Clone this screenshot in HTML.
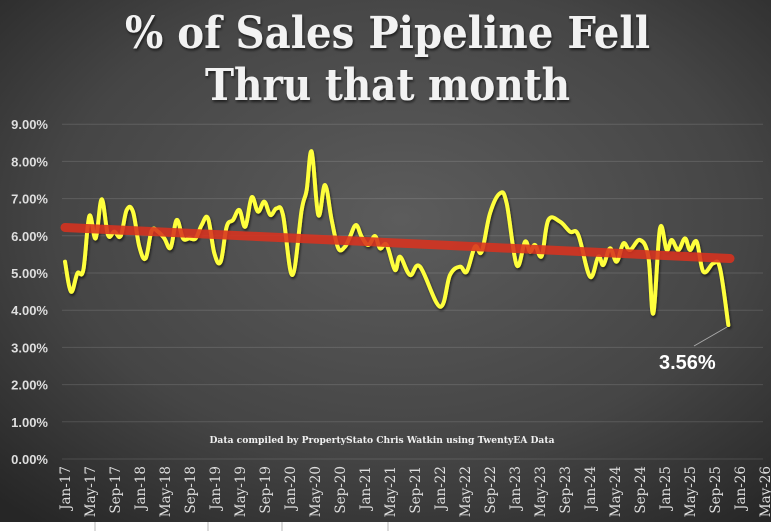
<!DOCTYPE html>
<html><head><meta charset="utf-8"><style>
html,body{margin:0;padding:0;width:771px;height:531px;overflow:hidden;background:#fff}
</style></head><body>
<svg id="s" width="771" height="531" xmlns="http://www.w3.org/2000/svg" style="display:block">
<defs>
<radialGradient id="bg" cx="0.52" cy="0.42" r="0.75">
<stop offset="0" stop-color="#5c5c5c"/><stop offset="0.6" stop-color="#454545"/><stop offset="1" stop-color="#262626"/>
</radialGradient>
<filter id="sh" x="-5%" y="-5%" width="110%" height="110%"><feDropShadow dx="1" dy="2" stdDeviation="1.2" flood-color="#000" flood-opacity="0.6"/></filter>
</defs>
<rect x="0" y="0" width="771" height="522" fill="url(#bg)"/>
<rect x="0" y="522" width="771" height="9" fill="#fff"/>
<g stroke="#bbb" stroke-width="1"><line x1="95" y1="522" x2="95" y2="531"/><line x1="208" y1="522" x2="208" y2="531"/><line x1="282" y1="522" x2="282" y2="531"/><line x1="388" y1="522" x2="388" y2="531"/></g>
<g font-family="'DejaVu Serif','Liberation Serif',serif" font-weight="bold" fill="#f2f2f2" filter="url(#sh)">
<text x="125" y="48" font-size="44" textLength="525" lengthAdjust="spacingAndGlyphs">% of Sales Pipeline Fell</text>
<text x="205" y="100" font-size="44" textLength="365" lengthAdjust="spacingAndGlyphs">Thru that month</text>
</g>
<g id="grid" stroke="#ffffff" stroke-opacity="0.13" stroke-width="1"></g>
<g id="ylab" font-family="'Liberation Sans',sans-serif" font-weight="bold" font-size="13" fill="#dedede" text-anchor="end"></g>
<g id="xlab" font-family="'DejaVu Serif','Liberation Serif',serif" font-size="13.5" fill="#dedede"></g>
<text x="382" y="443" text-anchor="middle" font-family="'DejaVu Serif','Liberation Serif',serif" font-weight="bold" font-size="9.5" fill="#f0f0f0" textLength="345" lengthAdjust="spacingAndGlyphs">Data compiled by PropertyStato Chris Watkin using TwentyEA Data</text>
<path id="yl" fill="none" stroke="#ffff3c" stroke-width="4" stroke-linejoin="round" stroke-linecap="round" filter="url(#sh)"/>
<line x1="65" y1="227.5" x2="730" y2="258.5" stroke="#d8321f" stroke-opacity="0.88" stroke-width="9" stroke-linecap="round"/>
<line x1="694" y1="346" x2="727" y2="327" stroke="#aaa" stroke-width="1"/>
<text x="659" y="369" font-family="'Liberation Sans',sans-serif" font-weight="bold" font-size="20" fill="#fff">3.56%</text>
</svg>
<script>
var ns="http://www.w3.org/2000/svg";
function el(t,a,p,txt){var e=document.createElementNS(ns,t);for(var k in a)e.setAttribute(k,a[k]);if(txt)e.textContent=txt;p.appendChild(e);return e;}
var g=document.getElementById('grid'),yl=document.getElementById('ylab'),xl=document.getElementById('xlab');
function Y(v){return 459-v*37.2;}
for(var i=0;i<=9;i++){var y=Y(i);el('line',{x1:62,y1:y,x2:763,y2:y},g);el('text',{x:48,y:y+5},yl,i+'.00%');}
var mon=['Jan','May','Sep'];
for(var k=0;k<29;k++){var x=65+25*k;var lab=mon[k%3]+'-'+(17+Math.floor(k/3));
el('text',{x:0,y:0,transform:'translate('+(x+5)+',466) rotate(-90)','text-anchor':'end'},xl,lab);}
var z1=[[195,455],[213,545],[232,490],[250,480],[268,318],[287,385],[305,268],[324,375],[343,365],[362,378],[380,300],[399,305],[418,410],[437,445],[455,362],[474,365],[493,385],[512,413],[530,330],[549,385],[568,385],[587,385],[605,345],[624,325],[643,430],[662,455],[680,350],[699,330],[718,300],[736,350],[755,262],[774,305],[793,275],[811,315],[830,295],[849,315],[877,495],[905,300],[920,240],[935,125],[955,315],[975,225],[995,330],[1015,415],[1035,410],[1050,380],[1068,345],[1085,380],[1105,405],[1125,378],[1140,415],[1160,405],[1185,480]];
var z3=[[0,320],[30,375],[60,350],[120,470],[150,375],[180,350],[200,365],[225,290],[245,305],[270,190],[300,130],[320,160],[350,345],[375,275],[390,305],[405,285],[425,318],[445,210],[480,215],[510,245],[535,255],[570,380],[595,320],[610,345],[630,295],[650,335],[670,280],[690,300],[720,270],[745,320],[760,490],[780,235],[800,300],[815,270],[835,300],[855,265],[870,300],[890,275],[910,365],[940,340],[960,355],[985,525]];
var P=[];z1.forEach(function(p){P.push([p[0]/3,110+p[1]/3]);});z3.forEach(function(p){P.push([400+p[0]/3,150+p[1]/3]);});
var d='M'+P[0][0]+','+P[0][1];
for(var i=0;i<P.length-1;i++){var p0=P[Math.max(i-1,0)],p1=P[i],p2=P[i+1],p3=P[Math.min(i+2,P.length-1)];
var t=0.18;d+=' C'+(p1[0]+(p2[0]-p0[0])*t)+','+(p1[1]+(p2[1]-p0[1])*t)+' '+(p2[0]-(p3[0]-p1[0])*t)+','+(p2[1]-(p3[1]-p1[1])*t)+' '+p2[0]+','+p2[1];}
document.getElementById('yl').setAttribute('d',d);
</script>
</body></html>
